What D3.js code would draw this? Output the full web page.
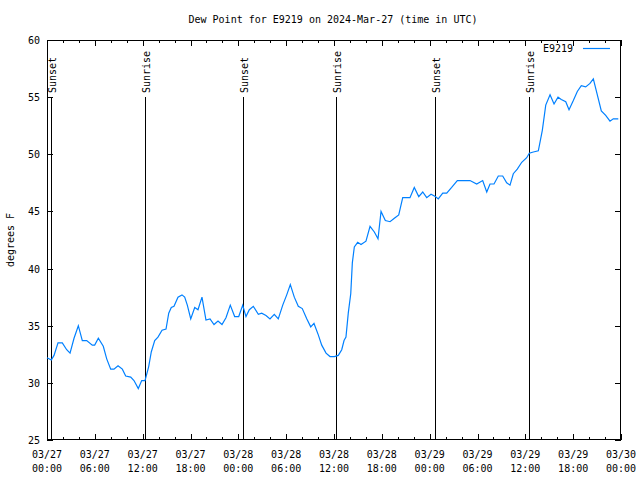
<!DOCTYPE html>
<html>
<head>
<meta charset="utf-8">
<script src="https://cdn.jsdelivr.net/npm/d3@7"></script>
<style>
  html, body { margin: 0; padding: 0; background: #fff; }
  svg { display: block; }
  text { font-family: "DejaVu Sans Mono", "Liberation Mono", monospace; font-size: 10px; fill: #000; }
</style>
</head>
<body>
<svg id="chart" width="640" height="480"></svg>
<script>
// ---- data (hours after 2024-03-27 00:00 UTC, dew point in °F) ----
const hours = [0.0, 0.54, 0.88, 1.38, 1.92, 2.47, 2.89, 3.39, 3.93, 4.43, 4.98, 5.68, 5.98, 6.44, 7.06, 7.49, 7.99, 8.40, 8.91, 9.45, 9.87, 10.50, 10.91, 11.45, 11.88, 12.29, 12.75, 13.08, 13.51, 13.92, 14.43, 14.93, 15.27, 15.59, 15.93, 16.43, 16.93, 17.27, 17.60, 18.03, 18.53, 18.94, 19.44, 19.94, 20.45, 20.95, 21.45, 21.95, 22.45, 22.99, 23.54, 24.05, 24.55, 24.96, 25.38, 25.88, 26.51, 26.93, 27.47, 27.97, 28.51, 29.01, 29.57, 30.07, 30.52, 31.02, 31.52, 32.02, 32.58, 33.08, 33.49, 34.03, 34.46, 35.00, 35.50, 36.04, 36.54, 36.97, 37.26, 37.50, 37.79, 38.10, 38.30, 38.55, 38.97, 39.39, 40.01, 40.52, 41.06, 41.52, 41.90, 42.44, 43.03, 43.57, 44.12, 44.62, 45.53, 46.07, 46.63, 47.13, 47.63, 48.17, 48.71, 49.08, 49.64, 50.14, 50.76, 51.47, 53.06, 53.90, 54.65, 55.16, 55.57, 56.07, 56.61, 57.16, 57.66, 58.08, 58.49, 58.99, 59.55, 60.17, 60.50, 61.00, 61.63, 62.13, 62.56, 63.10, 63.60, 64.10, 64.51, 65.07, 65.48, 66.02, 66.52, 67.02, 67.57, 68.11, 68.53, 69.03, 69.53, 70.08, 70.62, 71.03, 71.66];
const dewF = [32.2, 32.0, 32.4, 33.5, 33.5, 32.9, 32.6, 33.9, 35.0, 33.7, 33.7, 33.3, 33.3, 33.9, 33.2, 32.1, 31.2, 31.2, 31.5, 31.2, 30.6, 30.5, 30.2, 29.5, 30.2, 30.2, 31.4, 32.7, 33.7, 34.0, 34.6, 34.7, 36.1, 36.6, 36.7, 37.5, 37.7, 37.5, 36.8, 35.6, 36.6, 36.4, 37.5, 35.5, 35.6, 35.1, 35.4, 35.1, 35.7, 36.8, 35.8, 35.8, 36.8, 35.8, 36.4, 36.7, 36.0, 36.1, 35.9, 35.6, 36.0, 35.6, 36.8, 37.7, 38.6, 37.5, 36.7, 36.5, 35.6, 34.9, 35.2, 34.2, 33.3, 32.6, 32.3, 32.3, 32.4, 32.9, 33.7, 34.0, 36.1, 37.8, 40.5, 41.9, 42.3, 42.1, 42.4, 43.7, 43.2, 42.6, 45.0, 44.2, 44.1, 44.4, 44.7, 46.2, 46.2, 47.1, 46.3, 46.7, 46.2, 46.5, 46.3, 46.1, 46.6, 46.6, 47.1, 47.7, 47.7, 47.4, 47.7, 46.7, 47.4, 47.4, 48.1, 48.1, 47.5, 47.3, 48.3, 48.7, 49.3, 49.7, 50.1, 50.2, 50.3, 52.1, 54.3, 55.2, 54.4, 55.0, 54.8, 54.6, 53.9, 54.7, 55.5, 56.0, 55.9, 56.2, 56.6, 55.2, 53.8, 53.4, 52.9, 53.1, 53.1];
const sunEventHours = [0.54, 12.29, 24.59, 36.29, 48.71, 60.42];
const sunEventLabels = ["Sunset", "Sunrise", "Sunset", "Sunrise", "Sunset", "Sunrise"];
const yTicks = [25, 30, 35, 40, 45, 50, 55, 60];
const seriesName = "E9219";
const titleText = "Dew Point for E9219 on 2024-Mar-27 (time in UTC)";
const yLabel = "degrees F";

const t0 = Date.UTC(2024, 2, 27, 0, 0);
const toDate = h => new Date(t0 + h * 3600 * 1000);
const start = toDate(0), end = toDate(72);

const svg = d3.select("#chart");
const L = 47, R = 621, T = 40, B = 440;

const x = d3.scaleUtc().domain([start, end]).range([L, R]);
const y = d3.scaleLinear().domain([25, 60]).range([B, T]);

const majorTicks = d3.utcHour.every(6).range(start, d3.utcHour.offset(end, 1));
const minorTicks = d3.utcHour.every(2).range(start, d3.utcHour.offset(end, 1));

const g = svg.append("g").attr("shape-rendering", "crispEdges");

// minor ticks top & bottom
minorTicks.forEach(t => {
  const xx = Math.round(x(t)) + 0.5;
  g.append("line").attr("x1", xx).attr("x2", xx).attr("y1", B).attr("y2", B - 3).attr("stroke", "#000");
  g.append("line").attr("x1", xx).attr("x2", xx).attr("y1", T).attr("y2", T + 3).attr("stroke", "#000");
});
majorTicks.forEach(t => {
  const xx = Math.round(x(t)) + 0.5;
  g.append("line").attr("x1", xx).attr("x2", xx).attr("y1", B).attr("y2", B - 6).attr("stroke", "#000");
  g.append("line").attr("x1", xx).attr("x2", xx).attr("y1", T).attr("y2", T + 6).attr("stroke", "#000");
});
// y ticks left & right
yTicks.forEach(v => {
  const yy = Math.round(y(v)) + 0.5;
  g.append("line").attr("x1", L).attr("x2", L + 6).attr("y1", yy).attr("y2", yy).attr("stroke", "#000");
  g.append("line").attr("x1", R).attr("x2", R - 6).attr("y1", yy).attr("y2", yy).attr("stroke", "#000");
});

// x tick labels (two lines)
const fmtDate = d3.utcFormat("%m/%d"), fmtTime = d3.utcFormat("%H:%M");
majorTicks.forEach(t => {
  const xx = x(t);
  svg.append("text").attr("x", xx).attr("y", 458).attr("text-anchor", "middle").text(fmtDate(t));
  svg.append("text").attr("x", xx).attr("y", 472).attr("text-anchor", "middle").text(fmtTime(t));
});
// y tick labels
yTicks.forEach(v => {
  svg.append("text").attr("x", 40).attr("y", y(v) + 4).attr("text-anchor", "end").text(v);
});

// sunrise/sunset lines
sunEventHours.forEach((h, i) => {
  const xx = Math.round(x(toDate(h))) + 0.5;
  g.append("line").attr("x1", xx).attr("x2", xx).attr("y1", 97).attr("y2", B).attr("stroke", "#000");
  svg.append("text")
    .attr("transform", `translate(${xx + 4},93) rotate(-90)`)
    .attr("text-anchor", "start")
    .text(sunEventLabels[i]);
});

// data line
const line = d3.line()
  .x((d, i) => x(toDate(hours[i])))
  .y(d => y(d));
svg.append("path")
  .datum(dewF)
  .attr("d", line)
  .attr("fill", "none")
  .attr("stroke", "#0080ff")
  .attr("stroke-width", 1.2);

// frame
g.append("rect").attr("x", L + 0.5).attr("y", T + 0.5).attr("width", R - L - 1).attr("height", B - T - 1)
  .attr("fill", "none").attr("stroke", "#000");

// title
svg.append("text").attr("x", 333).attr("y", 23).attr("text-anchor", "middle").text(titleText);
// y label
svg.append("text").attr("transform", "translate(14,240) rotate(-90)").attr("text-anchor", "middle").text(yLabel);

// legend
svg.append("text").attr("x", 573).attr("y", 52).attr("text-anchor", "end").text(seriesName);
svg.append("line").attr("x1", 583).attr("x2", 610).attr("y1", 48.5).attr("y2", 48.5)
  .attr("stroke", "#0080ff").attr("stroke-width", 1.2);
</script>
</body>
</html>
